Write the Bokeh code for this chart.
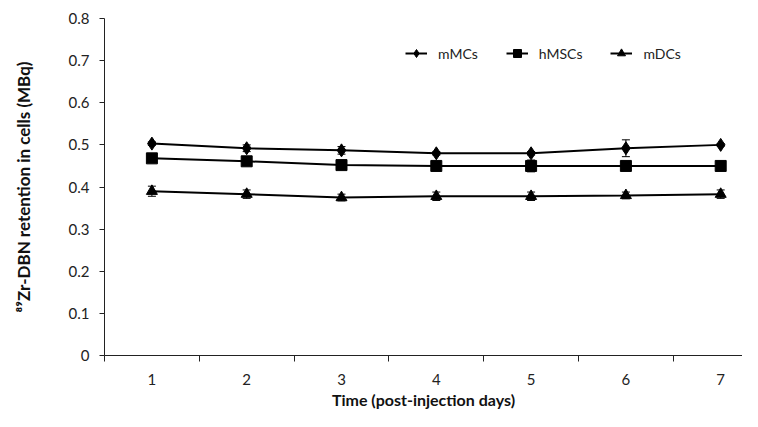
from bokeh.plotting import figure
from bokeh.models import (ColumnDataSource, Whisker, TeeHead, FixedTicker, Legend, LegendItem, Range1d)
from bokeh.embed import file_html
from bokeh.resources import INLINE

days = [1, 2, 3, 4, 5, 6, 7]
day_labels = ["1", "2", "3", "4", "5", "6", "7"]
mMCs = [0.503, 0.492, 0.487, 0.480, 0.480, 0.492, 0.500]
mMCs_err = [0.004, 0.008, 0.009, 0.004, 0.004, 0.020, 0.003]
hMSCs = [0.468, 0.461, 0.452, 0.450, 0.450, 0.450, 0.450]
hMSCs_err = [0.010, 0.005, 0.005, 0.005, 0.014, 0.003, 0.003]
mDCs = [0.390, 0.383, 0.375, 0.378, 0.378, 0.380, 0.383]
mDCs_err = [0.012, 0.010, 0.008, 0.010, 0.010, 0.008, 0.010]
y_ticks = [0, 0.1, 0.2, 0.3, 0.4, 0.5, 0.6, 0.7, 0.8]

FONT = "Lato"
H = 411
TOP = 18
BOTTOM = 55

p = figure(width=742, height=H, output_backend="svg", toolbar_location=None,
           x_range=Range1d(0.5, 7.23), y_range=Range1d(0, 0.8),
           min_border_left=104, min_border_right=0, min_border_top=TOP, min_border_bottom=BOTTOM)
p.outline_line_color = None
p.xgrid.grid_line_color = None
p.ygrid.grid_line_color = None
p.background_fill_color = "white"
p.border_fill_color = "white"

# axes
p.xaxis.ticker = FixedTicker(ticks=days, minor_ticks=[d - 0.5 for d in days])
p.xaxis.major_label_overrides = {d: l for d, l in zip(days, day_labels)}
p.xaxis.major_tick_out = 0
p.xaxis.major_tick_in = 0
p.xaxis.minor_tick_out = 6
p.xaxis.minor_tick_in = 0
p.xaxis.minor_tick_line_color = "#222222"
p.xaxis.axis_line_color = "#222222"
p.xaxis.major_label_text_font = FONT
p.xaxis.major_label_text_font_size = "15px"
p.xaxis.major_label_text_color = "#222222"
p.xaxis.major_label_standoff = 12
p.xaxis.axis_label = "Time (post-injection days)"
p.xaxis.axis_label_text_font = FONT
p.xaxis.axis_label_text_font_style = "bold"
p.xaxis.axis_label_text_font_size = "16px"
p.xaxis.axis_label_text_color = "#111111"
p.xaxis.axis_label_standoff = 2

p.yaxis.ticker = FixedTicker(ticks=y_ticks)
p.yaxis.major_label_overrides = {t: ("0" if t == 0 else f"{t:.1f}") for t in y_ticks}
p.yaxis.major_tick_out = 5
p.yaxis.major_tick_in = 0
p.yaxis.minor_tick_out = 0
p.yaxis.minor_tick_in = 0
p.yaxis.axis_line_color = "#222222"
p.yaxis.major_tick_line_color = "#222222"
p.yaxis.major_label_text_font = FONT
p.yaxis.major_label_text_font_size = "15px"
p.yaxis.major_label_text_color = "#222222"
p.yaxis.major_label_standoff = 10
p.yaxis.axis_label = "\u2078\u2079Zr-DBN retention in cells (MBq)"
p.yaxis.axis_label_text_font = FONT
p.yaxis.axis_label_text_font_style = "bold"
p.yaxis.axis_label_text_font_size = "17px"
p.yaxis.axis_label_text_color = "#111111"
p.yaxis.axis_label_standoff = 32

series = [
    ("mMCs", mMCs, mMCs_err, "diamond", 13),
    ("hMSCs", hMSCs, hMSCs_err, "square", 11),
    ("mDCs", mDCs, mDCs_err, "triangle", 11),
]

items = []
for name, vals, errs, marker, size in series:
    src = ColumnDataSource(dict(x=days, y=vals,
                                lo=[v - e for v, e in zip(vals, errs)],
                                hi=[v + e for v, e in zip(vals, errs)]))
    w = Whisker(source=src, base="x", lower="lo", upper="hi", line_color="black", line_width=1,
                upper_head=TeeHead(size=8, line_color="black", line_width=1),
                lower_head=TeeHead(size=8, line_color="black", line_width=1))
    p.add_layout(w)
    lr = p.line("x", "y", source=src, line_color="black", line_width=2)
    sr = p.scatter("x", "y", source=src, marker=marker, size=size,
                   fill_color="black", line_color="black")
    items.append(LegendItem(label=name, renderers=[lr, sr]))

frame_h = H - TOP - BOTTOM
legend = Legend(items=items, orientation="horizontal", location=(297, frame_h - 50),
                border_line_alpha=0, background_fill_alpha=0,
                label_text_font=FONT, label_text_font_size="14px",
                label_text_color="#222222",
                glyph_width=22, label_standoff=11, spacing=28, padding=4)
p.add_layout(legend, "center")

open("out.html", "w").write(file_html(p, INLINE))
